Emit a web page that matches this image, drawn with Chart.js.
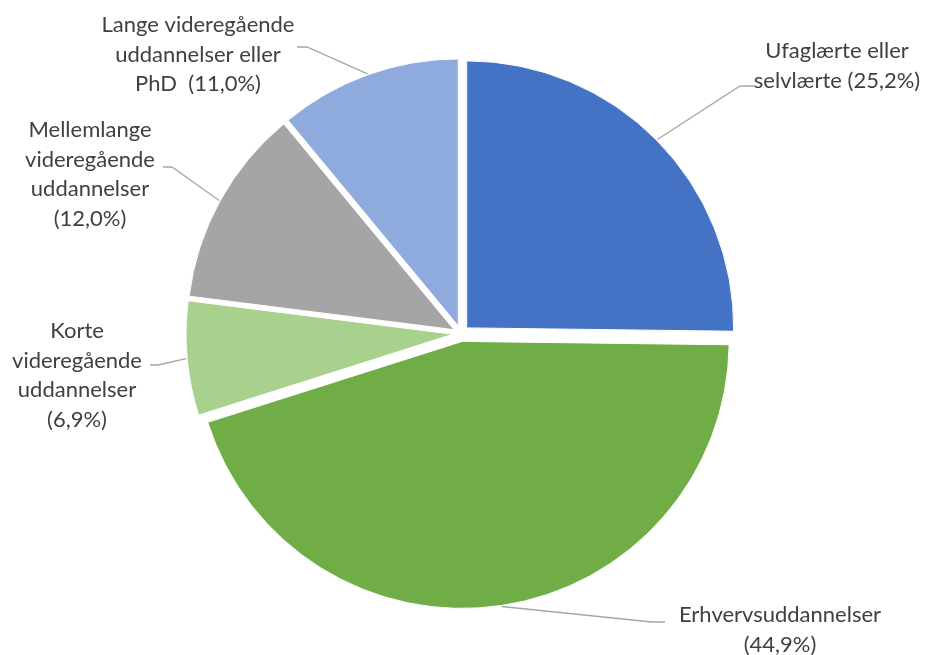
<!DOCTYPE html>
<html>
<head>
<meta charset="utf-8">
<script src="https://cdn.jsdelivr.net/npm/chart.js@4.4.0/dist/chart.umd.min.js"></script>
<style>
  html, body { margin: 0; padding: 0; background: #fff; }
</style>
</head>
<body>
<canvas id="pie" width="929" height="655"></canvas>
<script>
  // ── Data ──
  var CATEGORIES = [
    'Ufaglærte eller selvlærte',
    'Erhvervsuddannelser',
    'Korte videregående uddannelser',
    'Mellemlange videregående uddannelser',
    'Lange videregående uddannelser eller PhD'
  ];
  var SHARES = [25.2, 44.9, 6.9, 12.0, 11.0];
  // label lines, {p} is replaced by the formatted share
  var LABEL_LINES = [
    ['Ufaglærte eller', 'selvlærte ({p})'],
    ['Erhvervsuddannelser', '({p})'],
    ['Korte', 'videregående', 'uddannelser', '({p})'],
    ['Mellemlange', 'videregående', 'uddannelser', '({p})'],
    ['Lange videregående', 'uddannelser eller', 'PhD  ({p})']
  ];

  var COLORS = ['#4472C4', '#70AD47', '#A9D18E', '#A5A5A5', '#8FAADC'];

  // label block: centre x, first baseline, leader start and elbow
  var LABEL_LAYOUT = [
    { x: 837, y: 58,  from: [755, 86],  elbow: [740, 86] },
    { x: 780, y: 622, from: [665, 622], elbow: [652, 622] },
    { x: 77,  y: 338, from: [150, 365], elbow: [158, 365] },
    { x: 90,  y: 137, from: [163, 167], elbow: [172, 167] },
    { x: 198, y: 32,  from: [297, 47],  elbow: [307, 47] }
  ];
  var LINE_H = 29.5;
  var EXPLODE = 8;

  function fmtPct(v) {
    return v.toFixed(1).replace('.', ',') + '%';
  }

  // ── Explode slices: shift each arc along its mid angle ──
  var explodePlugin = {
    id: 'explode',
    afterDatasetUpdate: function(chart, args) {
      var arcs = chart.getDatasetMeta(args.index).data;
      arcs.forEach(function(arc) {
        var mid = (arc.startAngle + arc.endAngle) / 2;
        arc.x += Math.cos(mid) * EXPLODE;
        arc.y += Math.sin(mid) * EXPLODE;
      });
    }
  };

  // ── Labels with leader lines ──
  var labelPlugin = {
    id: 'pieLabels',
    afterDatasetsDraw: function(chart) {
      var ctx = chart.ctx;
      var arcs = chart.getDatasetMeta(0).data;
      ctx.save();
      arcs.forEach(function(arc, i) {
        var lay = LABEL_LAYOUT[i];
        var mid = (arc.startAngle + arc.endAngle) / 2;
        var ex = arc.x + Math.cos(mid) * (arc.outerRadius + 1);
        var ey = arc.y + Math.sin(mid) * (arc.outerRadius + 1);

        ctx.strokeStyle = '#A6A6A6';
        ctx.lineWidth = 1.3;
        ctx.beginPath();
        ctx.moveTo(lay.from[0], lay.from[1]);
        ctx.lineTo(lay.elbow[0], lay.elbow[1]);
        ctx.lineTo(ex, ey);
        ctx.stroke();

        ctx.fillStyle = '#404040';
        ctx.font = '22px Lato';
        ctx.textAlign = 'center';
        ctx.textBaseline = 'alphabetic';
        LABEL_LINES[i].forEach(function(line, k) {
          var txt = line.replace('{p}', fmtPct(SHARES[i]));
          ctx.fillText(txt, lay.x, lay.y + k * LINE_H);
        });
      });
      ctx.restore();
    }
  };

  new Chart(document.getElementById('pie'), {
    type: 'pie',
    data: {
      labels: CATEGORIES,
      datasets: [{
        data: SHARES,
        backgroundColor: COLORS,
        borderColor: '#ffffff',
        borderWidth: 1
      }]
    },
    options: {
      responsive: false,
      animation: false,
      radius: 267,
      layout: { padding: { left: 0, right: 7, top: 12, bottom: 0 } },
      plugins: {
        legend: { display: false },
        tooltip: { enabled: false }
      }
    },
    plugins: [explodePlugin, labelPlugin]
  });
</script>
</body>
</html>
